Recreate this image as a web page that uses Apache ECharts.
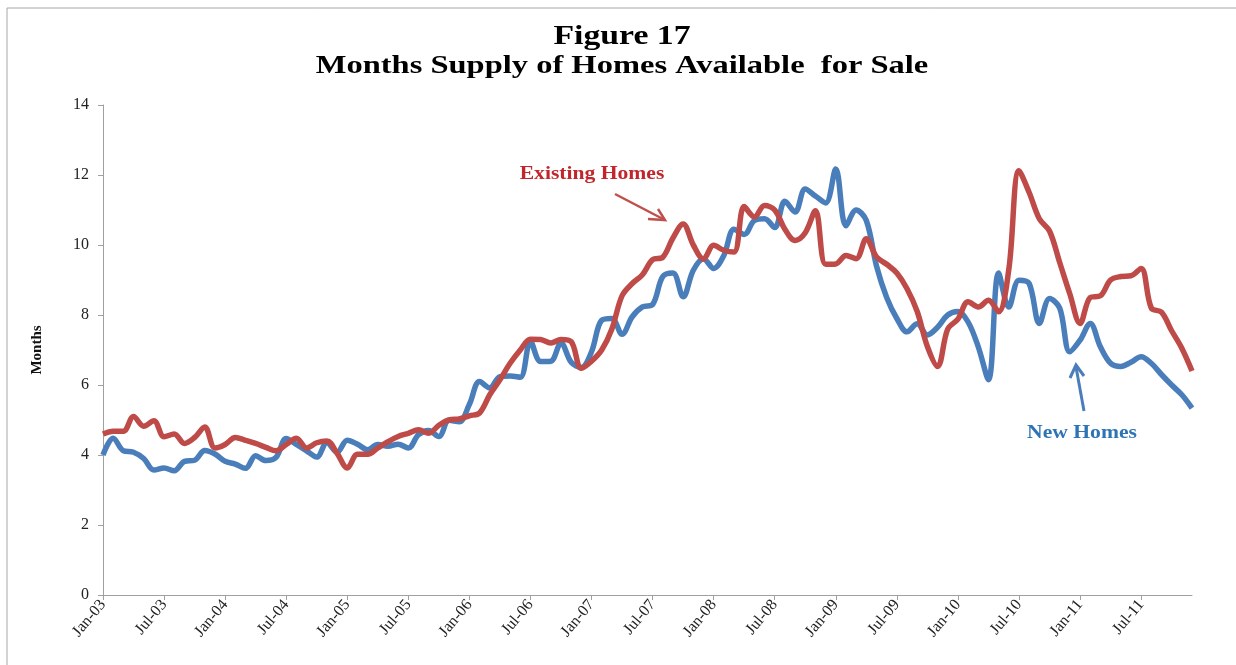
<!DOCTYPE html>
<html>
<head>
<meta charset="utf-8">
<title>Months Supply of Homes Available for Sale</title>
<script src="https://cdn.jsdelivr.net/npm/echarts@6/dist/echarts.min.js"></script>
<style>
  html, body { margin: 0; padding: 0; background: #fff; }
  #chartBox { width: 1236px; height: 665px; }
</style>
</head>
<body>
<div id="chartBox"></div>
<script>
// months Jan-03 .. Dec-11
var monthNames = ["Jan", "Feb", "Mar", "Apr", "May", "Jun", "Jul", "Aug", "Sep", "Oct", "Nov", "Dec"];
var years = ["03", "04", "05", "06", "07", "08", "09", "10", "11"];

// new homes, months supply
var newHomes = [
  4.0, 4.48, 4.12, 4.08, 3.9, 3.57, 3.63, 3.55, 3.82, 3.85, 4.13, 4.03,
  3.82, 3.74, 3.62, 3.98, 3.84, 3.93, 4.47, 4.3, 4.12, 3.94, 4.35, 4.08,
  4.42, 4.31, 4.15, 4.3, 4.25, 4.31, 4.2, 4.58, 4.7, 4.53, 4.99, 4.95,
  5.45, 6.1, 5.92, 6.24, 6.26, 6.22, 7.24, 6.67, 6.68, 7.2, 6.65, 6.5,
  6.95, 7.85, 7.9, 7.45, 7.95, 8.23, 8.3, 9.1, 9.2, 8.52, 9.28, 9.61,
  9.33, 9.7, 10.45, 10.3, 10.7, 10.75, 10.5, 11.25, 10.94, 11.6, 11.4, 11.2,
  12.17, 10.55, 11.0, 10.7, 9.4, 8.5, 7.9, 7.52, 7.75, 7.43, 7.65, 8.0,
  8.1, 7.8, 7.09, 6.15, 9.2, 8.23, 8.99, 8.9, 7.76, 8.47, 8.2, 6.95,
  7.28, 7.76, 7.09, 6.62, 6.53, 6.65, 6.81, 6.62, 6.3, 6.0, 5.72, 5.34
];

// existing homes, months supply
var existingHomes = [
  4.6, 4.68, 4.68, 5.1, 4.82, 4.98, 4.52, 4.6, 4.33, 4.5, 4.8, 4.2,
  4.3, 4.5, 4.42, 4.33, 4.22, 4.12, 4.3, 4.48, 4.2, 4.35, 4.4, 4.05,
  3.63, 4.02, 4.02, 4.2, 4.38, 4.53, 4.62, 4.72, 4.62, 4.85, 5.0, 5.03,
  5.12, 5.2, 5.72, 6.15, 6.62, 7.0, 7.31, 7.3, 7.2, 7.3, 7.24, 6.48,
  6.68, 7.0, 7.6, 8.55, 8.9, 9.15, 9.58, 9.65, 10.2, 10.6, 10.0, 9.6,
  9.99, 9.85, 9.8, 11.1, 10.8, 11.13, 11.0, 10.45, 10.13, 10.35, 10.98, 9.45,
  9.46, 9.7, 9.61, 10.18, 9.66, 9.45, 9.2, 8.75, 8.1, 7.1, 6.53, 7.6,
  7.88, 8.38, 8.23, 8.42, 8.09, 9.3, 12.12, 11.5, 10.75, 10.4, 9.5, 8.6,
  7.76, 8.5, 8.55, 9.0, 9.1, 9.12, 9.33, 8.2, 8.08, 7.55, 7.05, 6.4
];

var categories = [];
years.forEach(function (y) {
  monthNames.forEach(function (m) {
    categories.push(m + "-" + y);
  });
});

var serif = "'Liberation Serif', 'DejaVu Serif', serif";
var axisGrey = "#A0A0A0";

var chart = echarts.init(document.getElementById("chartBox"));

var option = {
  animation: false,
  backgroundColor: "#fff",
  grid: { left: 103, right: 44, top: 105, bottom: 70 },
  xAxis: {
    type: "category",
    data: categories,
    boundaryGap: false, // first point sits on the axis
    axisLine: { lineStyle: { color: axisGrey, width: 1 } },
    axisTick: { show: true, interval: 5, length: 5, lineStyle: { color: axisGrey } },
    axisLabel: {
      interval: 5,
      rotate: 50,
      margin: 7,
      fontFamily: serif,
      fontSize: 16,
      color: "#222"
    },
    splitLine: { show: false }
  },
  yAxis: {
    type: "value",
    min: 0,
    max: 14,
    interval: 2,
    name: "Months",
    nameLocation: "middle",
    nameRotate: 90,
    nameGap: 58,
    nameTextStyle: { fontFamily: serif, fontSize: 15, fontWeight: "bold", color: "#111" },
    axisLine: { show: true, lineStyle: { color: axisGrey, width: 1 } },
    axisTick: { show: true, length: 5, lineStyle: { color: axisGrey } },
    axisLabel: { fontFamily: serif, fontSize: 16, color: "#222", margin: 14 },
    splitLine: { show: false }
  },
  series: [
    {
      name: "New Homes",
      type: "line",
      data: newHomes,
      smooth: 0.35,
      showSymbol: false,
      lineStyle: { color: "#4A7EBB", width: 5.5 }
    },
    {
      name: "Existing Homes",
      type: "line",
      data: existingHomes,
      smooth: 0.35,
      showSymbol: false,
      lineStyle: { color: "#BE4B48", width: 5.5 }
    }
  ],
  graphic: [
    // frame
    {
      type: "rect",
      shape: { x: 7, y: 8, width: 1300, height: 700 },
      style: { fill: "none", stroke: "#A6A6A6", lineWidth: 1 },
      silent: true
    },
    // title, two lines
    {
      type: "text",
      x: 622, y: 37, scaleX: 1.25,
      style: { text: "Figure 17", font: "bold 27px " + serif, fill: "#000", align: "center", verticalAlign: "middle" }
    },
    {
      type: "text",
      x: 622, y: 67, scaleX: 1.3,
      style: { text: "Months Supply of Homes Available  for Sale", font: "bold 25px " + serif, fill: "#000", align: "center", verticalAlign: "middle" }
    },
    // existing homes note + arrow
    {
      type: "text",
      x: 592, y: 174, scaleX: 1.2,
      style: { text: "Existing Homes", font: "bold 18px " + serif, fill: "#C0262B", align: "center", verticalAlign: "middle" }
    },
    {
      type: "line",
      shape: { x1: 615, y1: 194, x2: 663, y2: 219 },
      style: { stroke: "#C0504D", lineWidth: 2.5 }
    },
    {
      type: "polyline",
      shape: { points: [[648, 219], [665, 220], [658, 209]] },
      style: { stroke: "#C0504D", lineWidth: 2.5, fill: "none" }
    },
    // new homes note + arrow
    {
      type: "text",
      x: 1082, y: 433, scaleX: 1.2,
      style: { text: "New Homes", font: "bold 18px " + serif, fill: "#2E74B5", align: "center", verticalAlign: "middle" }
    },
    {
      type: "line",
      shape: { x1: 1084, y1: 411, x2: 1076, y2: 367 },
      style: { stroke: "#4A7EBB", lineWidth: 3 }
    },
    {
      type: "polyline",
      shape: { points: [[1070, 378], [1076, 365], [1084, 376]] },
      style: { stroke: "#4A7EBB", lineWidth: 3, fill: "none" }
    }
  ]
};

chart.setOption(option);
</script>
</body>
</html>
